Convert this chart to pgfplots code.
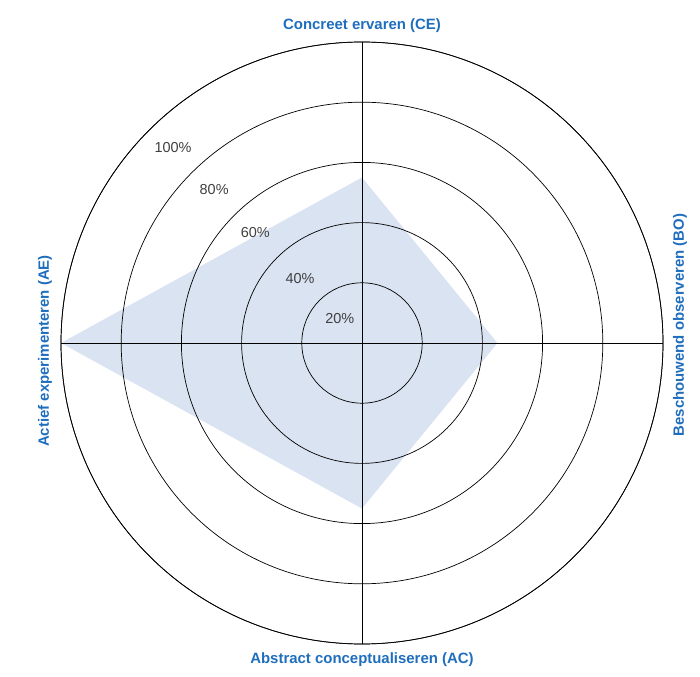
\documentclass[border=0pt]{standalone}
\usepackage{pgfplots}
\pgfplotsset{compat=1.18}
\usepgfplotslibrary{polar}
\usepackage{fontspec}
\setmainfont{Liberation Sans}
\definecolor{lblblue}{RGB}{31,110,190}
\definecolor{fillblue}{RGB}{218,227,241}
\definecolor{pctgray}{RGB}{64,64,64}
\begin{document}
\begin{tikzpicture}
\begin{polaraxis}[
  width=602bp, height=602bp, scale only axis,
  xmin=0, xmax=360, ymin=0, ymax=100,
  xtick={0,90,180,270}, ytick={20,40,60,80,100},
  xticklabels={}, yticklabels={},
  major tick length=0pt,
  grid=major,
  major grid style={black, line width=0.7bp},
  axis line style={black, line width=0.7bp},
  axis on top,
  clip=false,
]
\addplot[fill=fillblue, draw=none] coordinates {(90,55) (0,45) (270,55) (180,100)} -- cycle;
\coordinate (c) at (axis cs:0,0);
\node[text=pctgray, font=\fontsize{14.5}{16}\selectfont] at (axis cs:132,11) {20\%};
\node[text=pctgray, font=\fontsize{14.5}{16}\selectfont] at (axis cs:134,29.6) {40\%};
\node[text=pctgray, font=\fontsize{14.5}{16}\selectfont] at (axis cs:134,51) {60\%};
\node[text=pctgray, font=\fontsize{14.5}{16}\selectfont] at (axis cs:134,70.7) {80\%};
\node[text=pctgray, font=\fontsize{14.5}{16}\selectfont] at (axis cs:134,90.4) {100\%};
\end{polaraxis}
\path (c) ++(-362bp,-334bp) rectangle ++(700bp,677bp);
\node[text=lblblue, font=\fontsize{15}{17}\selectfont\bfseries] at ([yshift=317bp]c) {Concreet ervaren (CE)};
\node[text=lblblue, font=\fontsize{15}{17}\selectfont\bfseries] at ([yshift=-317bp]c) {Abstract conceptualiseren (AC)};
\node[text=lblblue, font=\fontsize{15}{17}\selectfont\bfseries, rotate=90] at ([xshift=-317bp,yshift=-8bp]c) {Actief experimenteren (AE)};
\node[text=lblblue, font=\fontsize{15}{17}\selectfont\bfseries, rotate=90] at ([xshift=318bp,yshift=18bp]c) {Beschouwend observeren (BO)};
\end{tikzpicture}
\end{document}
